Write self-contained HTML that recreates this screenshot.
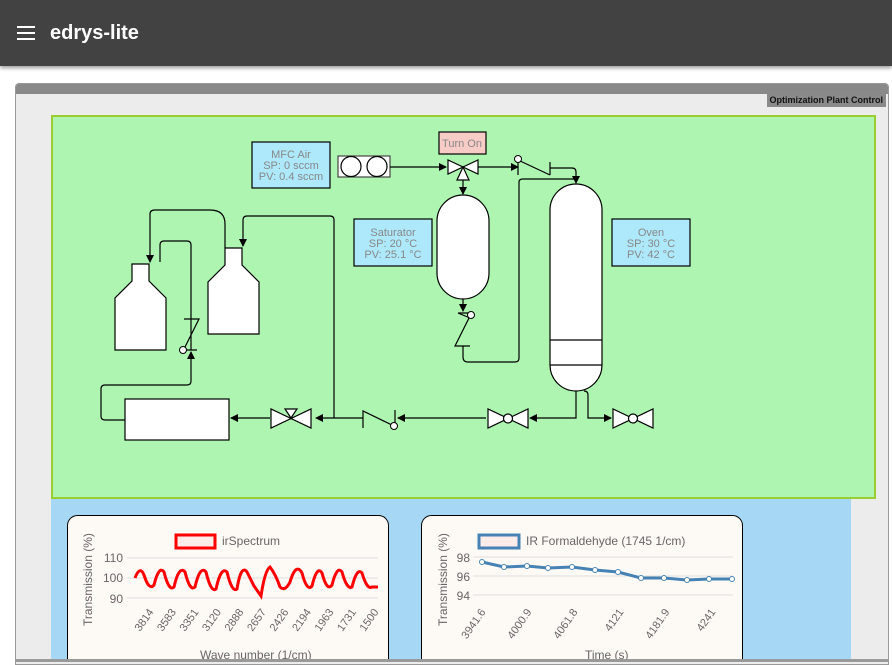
<!DOCTYPE html>
<html><head><meta charset="utf-8"><style>
body{margin:0;width:892px;height:662px;overflow:hidden;background:#fff;font-family:"Liberation Sans",sans-serif;position:relative}
#hdr{position:absolute;left:0;top:0;width:892px;height:66px;background:#424242;box-shadow:0 2px 4px rgba(0,0,0,.4)}
#hdr span{position:absolute;left:50px;top:22px;color:#fff;font-size:20px;font-weight:bold}
#win{position:absolute;left:15px;top:83px;width:872px;height:580px;background:#ececec;border:1px solid #999;border-radius:4px 4px 0 0;overflow:hidden}
#bar{position:absolute;left:0;top:0;width:100%;height:10px;background:#898989}
#tab{position:absolute;right:2px;top:10px;height:13px;background:#8a8a8a;font-size:9px;font-weight:bold;padding:0 3px;line-height:13px;color:#111}
svg{position:absolute;left:0;top:0;font-family:"Liberation Sans",sans-serif}
svg text{font-family:"Liberation Sans",sans-serif}
</style></head><body>
<div id="hdr"><span>edrys-lite</span>
<div style="position:absolute;left:17px;top:26px;width:18px;height:2px;background:#fff;box-shadow:0 6px 0 #fff,0 12px 0 #fff"></div></div>
<div id="win"><div id="bar"></div><div id="tab">Optimization Plant Control</div></div>
<svg width="892" height="662" viewBox="0 0 892 662">
<defs><marker id="a" markerWidth="8" markerHeight="8" refX="7" refY="4" orient="auto" markerUnits="userSpaceOnUse"><path d="M0,0 L8,4 L0,8z" fill="#000"/></marker></defs>
<rect x="51" y="498" width="800" height="164" fill="#a6d8f5"/>
<rect x="52" y="116" width="823" height="382" fill="#adf5b0" stroke="#9acd32" stroke-width="2"/>
<g fill="#fff" stroke="#000" stroke-width="1.2">
<rect x="252" y="142" width="78" height="46" fill="#aee8fb"/>
<rect x="354" y="219" width="78" height="47" fill="#aee8fb"/>
<rect x="612" y="219" width="78" height="47" fill="#aee8fb"/>
<rect x="439" y="132" width="47" height="22" fill="#f8ccc6"/>
<rect x="338" y="156" width="52" height="21" stroke="#444"/>
<circle cx="351" cy="166.5" r="10"/><circle cx="377" cy="166.5" r="10"/>
<rect x="437" y="195" width="52" height="104" rx="26"/>
<rect x="550" y="184" width="52" height="207" rx="26"/>
<line x1="550" y1="340" x2="602" y2="340"/><line x1="550" y1="365" x2="602" y2="365"/>
<path d="M115,350 V298 L132,281 V264 H149 V281 L166,298 V350Z"/>
<path d="M208,334 V282 L225,265 V248 H242 V265 L259,282 V334Z"/>
<rect x="125" y="399" width="104" height="41"/>
<path d="M448,160 L448,174 L463,167 L478,160 L478,174 L463,167Z"/><path d="M463,167 L457,180 H469Z"/>
<path d="M271,409 V428 L291,418.5Z M311,409 V428 L291,418.5Z"/><path d="M291,418 L285,409 H297Z"/>
<path d="M488,409 V428 L508,418.5Z M528,409 V428 L508,418.5Z"/><circle cx="508" cy="418.5" r="4.5"/>
<path d="M613,409 V428 L633,418.5Z M653,409 V428 L633,418.5Z"/><circle cx="633" cy="418.5" r="4.5"/>
</g>
<g font-size="11" fill="#888" text-anchor="middle" font-family="Liberation Sans">
<text x="291" y="158">MFC Air</text><text x="291" y="169">SP: 0 sccm</text><text x="291" y="180">PV: 0.4 sccm</text>
<text x="393" y="236">Saturator</text><text x="393" y="247">SP: 20 °C</text><text x="393" y="258">PV: 25.1 °C</text>
<text x="651" y="236">Oven</text><text x="651" y="247">SP: 30 °C</text><text x="651" y="258">PV: 42 °C</text>
<text x="462" y="147">Turn On</text></g>
<g fill="none" stroke="#000" stroke-width="1.2">
<path d="M390,167 H446" marker-end="url(#a)"/>
<path d="M478,167 H518" marker-end="url(#a)"/>
<path d="M463,180 V194" marker-end="url(#a)"/>
<path d="M463,299 V311" marker-end="url(#a)"/>
<path d="M518,158 V175 M518,160 L550,175 M550,162 V175 M550,168 H572 Q576,168 576,172 V183" marker-end="url(#a)"/>
<path d="M458,313 H470 M458,313 L470,318 M470,316 L455,346 H470 M463,346 V357 Q463,362 468,362 H515 Q519,362 519,358 V182 Q519,179 523,179 H575"/>
<path d="M576,391 V418 H530" marker-end="url(#a)"/>
<path d="M584,391 Q588,391 588,395 V418 H611" marker-end="url(#a)"/>
<path d="M486,418 H398" marker-end="url(#a)"/>
<path d="M395,410 V425 M394,426 L363,411 V428 M363,418 H316" marker-end="url(#a)"/>
<path d="M334,418 V220 Q334,216 330,216 H247 Q243,216 243,220 V246" marker-end="url(#a)"/>
<path d="M225,248 V224 Q225,210 210,210 H155 Q150,210 150,214 V262" marker-end="url(#a)"/>
<path d="M270,418 H231" marker-end="url(#a)"/>
<path d="M125,420 H105 Q101,420 101,416 V389 Q101,385 105,385 H187 Q191,385 191,381 V352" marker-end="url(#a)"/>
<path d="M191,350 V245 Q191,241 187,241 H164 Q160,241 160,245 V262 M183,350 H197 M184,349 L199,319 H184"/>
</g>
<g fill="#fff" stroke="#000"><circle cx="518" cy="159" r="3.5"/><circle cx="471" cy="315" r="3.5"/><circle cx="394" cy="426" r="3.5"/><circle cx="183" cy="350" r="3.5"/></g>
<rect x="67.5" y="515.5" width="321" height="160" rx="10" fill="#fdfaf6" stroke="#000"/>
<rect x="421.5" y="515.5" width="321" height="160" rx="10" fill="#fdfaf6" stroke="#000"/>
<g font-size="12" fill="#666">
<rect x="176" y="535" width="39" height="13" fill="#fdecea" stroke="red" stroke-width="3"/><text x="222" y="545" fill="#666">irSpectrum</text>
<rect x="479" y="535" width="40" height="13" fill="#fdecea" stroke="#4682b4" stroke-width="3"/><text x="526" y="545">IR Formaldehyde (1745 1/cm)</text>
<text transform="translate(92,626) rotate(-90)">Transmission (%)</text>
<text transform="translate(447,626) rotate(-90)">Transmission (%)</text>
<text x="200" y="659">Wave number (1/cm)</text><text x="585" y="659">Time (s)</text>
<g text-anchor="end"><text x="123" y="562">110</text><text x="123" y="582">100</text><text x="123" y="603">90</text>
<text x="470" y="562">98</text><text x="470" y="581">96</text><text x="470" y="600">94</text></g>
</g>
<g stroke="#ddd"><line x1="127" y1="558" x2="378" y2="558"/><line x1="127" y1="578" x2="378" y2="578"/><line x1="127" y1="598" x2="378" y2="598"/>
<line x1="473" y1="557" x2="733" y2="557"/><line x1="473" y1="576" x2="733" y2="576"/><line x1="473" y1="595" x2="733" y2="595"/></g>
<g font-size="11" fill="#666" text-anchor="end">
<text transform="translate(154,612) rotate(-55)">3814</text><text transform="translate(176.5,612) rotate(-55)">3583</text><text transform="translate(199,612) rotate(-55)">3351</text><text transform="translate(221.5,612) rotate(-55)">3120</text><text transform="translate(244,612) rotate(-55)">2888</text><text transform="translate(266.5,612) rotate(-55)">2657</text><text transform="translate(289,612) rotate(-55)">2426</text><text transform="translate(311.5,612) rotate(-55)">2194</text><text transform="translate(334,612) rotate(-55)">1963</text><text transform="translate(356.5,612) rotate(-55)">1731</text><text transform="translate(379,612) rotate(-55)">1500</text>
</g>
<g font-size="11" fill="#666" text-anchor="end">
<text transform="translate(486,612) rotate(-55)">3941.6</text><text transform="translate(532,612) rotate(-55)">4000.9</text><text transform="translate(578,612) rotate(-55)">4061.8</text><text transform="translate(624,612) rotate(-55)">4121</text><text transform="translate(670,612) rotate(-55)">4181.9</text><text transform="translate(716,612) rotate(-55)">4241</text>
</g>
<path d="M135,578 Q140,565 144,575 Q149,591 154,585 Q159,565 164,572 Q169,592 174,587 Q179,565 185,572 Q190,592 195,587 Q200,565 206,572 Q211,593 216,589 Q221,566 227,572 Q232,593 237,589 Q241,564 247,572 L254,586 L261,596 Q265,570 270,567 Q276,575 280,587 Q285,592 290,582 Q296,562 302,573 Q307,592 312,586 Q317,565 322,573 Q327,592 332,585 Q337,565 342,572 Q347,590 352,587 Q357,567 362,573 Q367,590 372,587 L378,587" fill="none" stroke="red" stroke-width="3"/>
<polyline points="482,562 504,567 527,566 548,568 572,567 595,570 618,572 641,578 664,578 687,580 709,579 732,579" fill="none" stroke="#4682b4" stroke-width="3"/>
<g fill="#fff" stroke="#4682b4" stroke-width="1"><circle cx="482" cy="562" r="2.5"/><circle cx="504" cy="567" r="2.5"/><circle cx="527" cy="566" r="2.5"/><circle cx="548" cy="568" r="2.5"/><circle cx="572" cy="567" r="2.5"/><circle cx="595" cy="570" r="2.5"/><circle cx="618" cy="572" r="2.5"/><circle cx="641" cy="578" r="2.5"/><circle cx="664" cy="578" r="2.5"/><circle cx="687" cy="580" r="2.5"/><circle cx="709" cy="579" r="2.5"/><circle cx="732" cy="579" r="2.5"/></g>
<rect x="15" y="659" width="873" height="3" fill="#999"/>
</svg>
</body></html>
